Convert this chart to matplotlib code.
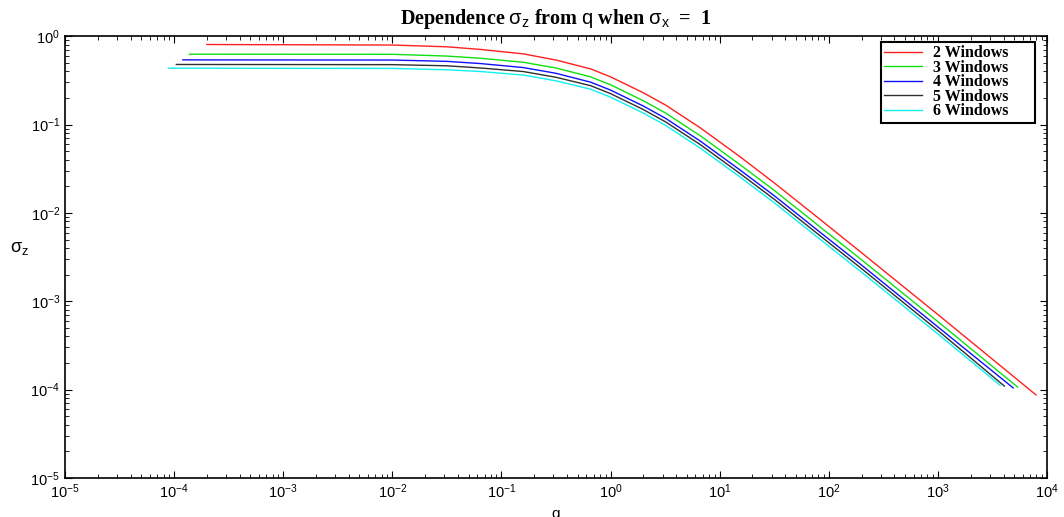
import numpy as np
import matplotlib
matplotlib.use("Agg")
import matplotlib.pyplot as plt
from matplotlib.ticker import LogLocator, NullFormatter

plt.rcParams["font.family"] = ["Liberation Sans", "DejaVu Sans"]
plt.rcParams["mathtext.fontset"] = "custom"
plt.rcParams["mathtext.rm"] = "Liberation Sans"
plt.rcParams["mathtext.it"] = "Liberation Sans"
plt.rcParams["mathtext.bf"] = "Liberation Sans:bold"

# Valores (exponentes en base 10)
log_q_mid = [-2.0, -1.5, -1.19, -0.8, -0.5, -0.183, 0.0, 0.3, 0.505, 0.826,
             1.193, 1.5, 1.927, 2.29, 3.0]

etiquetas = ["2 Windows", "3 Windows", "4 Windows", "5 Windows", "6 Windows"]
colores = ["#ff2020", "#10e010", "#1010ff", "#303030", "#10f0f0"]

log_q_inicio = [-3.70, -3.86, -3.92, -3.98, -4.05]
log_s_inicio = [-0.094, -0.204, -0.268, -0.32, -0.362]
log_q_fin = [3.90, 3.73, 3.69, 3.61, 3.57]
log_s_fin = [-4.06, -3.97, -3.98, -3.96, -3.95]

log_s_red = [-0.10, -0.12, -0.15, -0.20, -0.27, -0.37, -0.46, -0.64, -0.78, -1.04,
             -1.37, -1.66, -2.08, -2.44, -3.15]
log_s_green = [-0.205, -0.225, -0.25, -0.295, -0.36, -0.46, -0.55, -0.73, -0.87, -1.13,
               -1.46, -1.745, -2.165, -2.52, -3.23]
log_s_blue = [-0.27, -0.285, -0.31, -0.355, -0.42, -0.52, -0.61, -0.79, -0.93, -1.19,
              -1.52, -1.805, -2.225, -2.58, -3.29]
log_s_black = [-0.322, -0.335, -0.36, -0.40, -0.465, -0.56, -0.65, -0.83, -0.97, -1.23,
               -1.56, -1.845, -2.265, -2.62, -3.33]
log_s_cyan = [-0.365, -0.38, -0.40, -0.44, -0.505, -0.60, -0.69, -0.87, -1.01, -1.27,
              -1.60, -1.885, -2.305, -2.66, -3.37]
series = [log_s_red, log_s_green, log_s_blue, log_s_black, log_s_cyan]

fig = plt.figure(figsize=(10.64, 5.17), dpi=100)
ax = fig.add_axes([0.0611, 0.0754, 0.9229, 0.8546])

for i in range(5):
    lq = [log_q_inicio[i]] + log_q_mid + [log_q_fin[i]]
    ls = [log_s_inicio[i]] + series[i] + [log_s_fin[i]]
    ax.loglog(10 ** np.array(lq), 10 ** np.array(ls), color=colores[i], lw=1.0,
              label=etiquetas[i] + "      ")

ax.set_xlim(1e-5, 1e4)
ax.set_ylim(1e-5, 1e0)
ax.xaxis.set_major_locator(LogLocator(base=10, numticks=20))
ax.yaxis.set_major_locator(LogLocator(base=10, numticks=20))
ax.xaxis.set_minor_locator(LogLocator(base=10, subs=np.arange(2, 10), numticks=100))
ax.yaxis.set_minor_locator(LogLocator(base=10, subs=np.arange(2, 10), numticks=100))
ax.xaxis.set_minor_formatter(NullFormatter())
ax.yaxis.set_minor_formatter(NullFormatter())
ax.tick_params(which="both", direction="in", top=True, right=True, labelsize=10.5)
ax.tick_params(which="major", length=5)
ax.tick_params(which="minor", length=3)
for sp in ax.spines.values():
    sp.set_linewidth(1.2)

ax.set_title(r"Dependence $\sigma_z$ from $\mathrm{q}$ when $\sigma_x$  =  1",
             fontsize=14.5, fontweight="bold", family="Liberation Serif", pad=9)
ax.set_xlabel("q", fontsize=11)
ax.xaxis.set_label_coords(0.5, -0.065)
ax.set_ylabel(r"$\sigma_z$", fontsize=13, rotation=0)
ax.yaxis.set_label_coords(-0.046, 0.5)

leg = ax.legend(loc="upper right", bbox_to_anchor=(0.988, 0.987), borderaxespad=0,
                prop={"family": "Liberation Serif", "weight": "bold", "size": 11.5},
                labelspacing=-0.09, handlelength=2.4, handletextpad=0.65,
                borderpad=0.2, fancybox=False, framealpha=1)
leg.get_frame().set_edgecolor("black")
leg.get_frame().set_linewidth(1.5)

fig.savefig("out.png", dpi=100)
